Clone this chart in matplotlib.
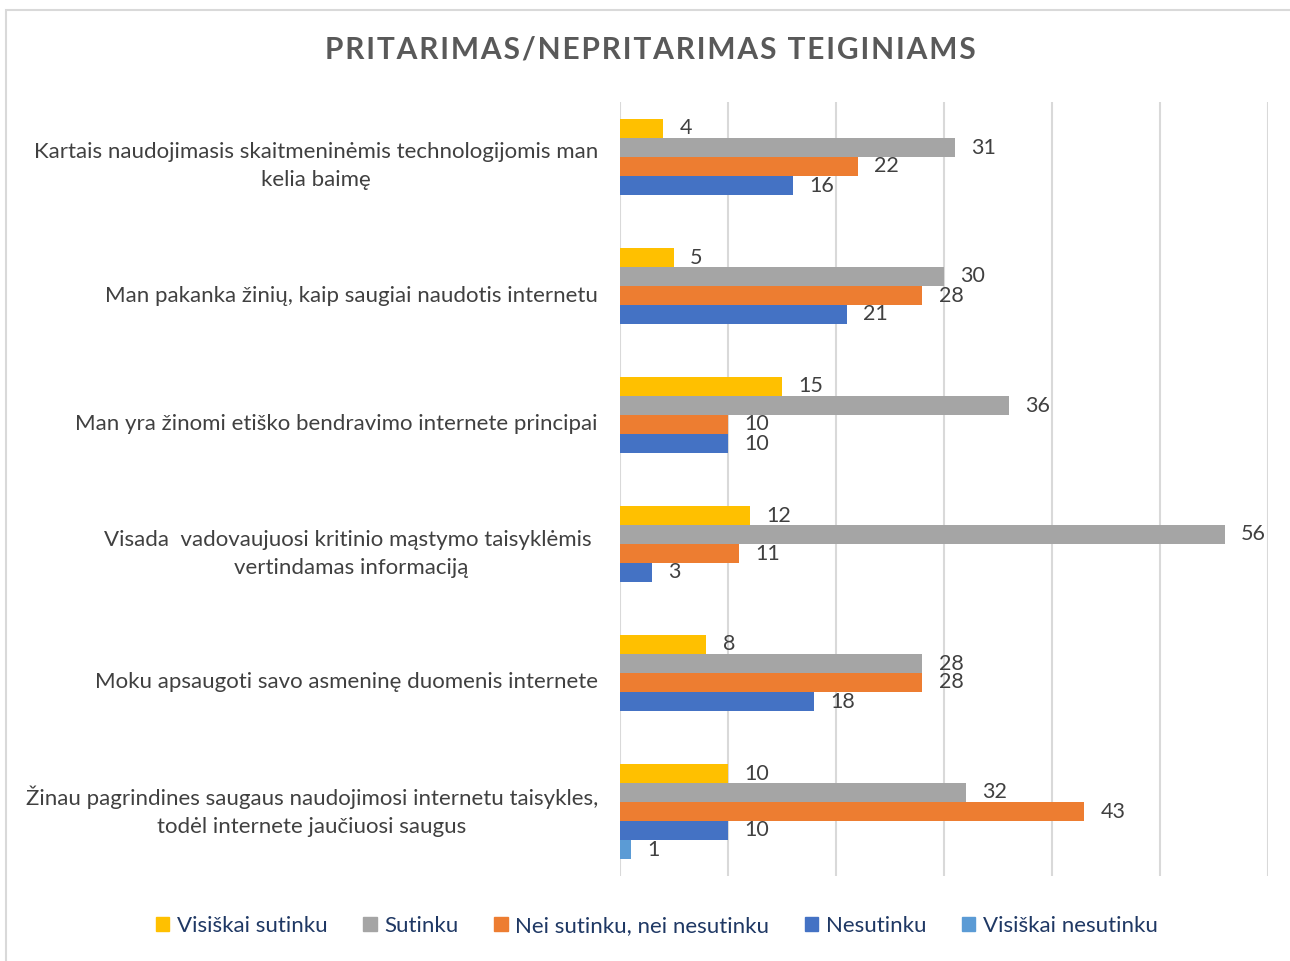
import numpy as np
import matplotlib.pyplot as plt
from matplotlib.patches import Rectangle

plt.rcParams['font.family'] = ['Lato', 'DejaVu Sans']

categories = [
    "Kartais naudojimasis skaitmeninėmis technologijomis man\nkelia baimę",
    "Man pakanka žinių, kaip saugiai naudotis internetu",
    "Man yra žinomi etiško bendravimo internete principai",
    "Visada  vadovaujuosi kritinio mąstymo taisyklėmis \nvertindamas informaciją",
    "Moku apsaugoti savo asmeninę duomenis internete",
    "Žinau pagrindines saugaus naudojimosi internetu taisykles,\ntodėl internete jaučiuosi saugus",
]
series_names = ["Visiškai sutinku", "Sutinku", "Nei sutinku, nei nesutinku",
                "Nesutinku", "Visiškai nesutinku"]
visiskai_sutinku = [4, 5, 15, 12, 8, 10]
sutinku = [31, 30, 36, 56, 28, 32]
nei_nei = [22, 28, 10, 11, 28, 43]
nesutinku = [16, 21, 10, 3, 18, 10]
visiskai_nesutinku = [None, None, None, None, None, 1]
title = "PRITARIMAS/NEPRITARIMAS TEIGINIAMS"

colors = ['#FFC000', '#A5A5A5', '#ED7D31', '#4472C4', '#5B9BD5']
all_series = [visiskai_sutinku, sutinku, nei_nei, nesutinku, visiskai_nesutinku]

fig = plt.figure(figsize=(12.9, 9.61), dpi=100)
W, H = 1290, 961
ax = fig.add_axes([620 / W, 1 - 876 / H, 648 / W, 774 / H])

# chart border (cropped at right/bottom like the source)
fig.patches.append(Rectangle((6 / W, -0.1), 1.2, 1 - 9.5 / H + 0.1, transform=fig.transFigure,
                             fill=False, edgecolor='#D9D9D9', linewidth=1.5))

slot = 19 / 129
y_centers = np.arange(len(categories))
for k, (vals, col) in enumerate(zip(all_series, colors)):
    for i, v in enumerate(vals):
        if v is None:
            continue
        y = y_centers[i] + (k - 2) * slot
        ax.barh(y, v, height=slot, color=col, zorder=3)
        ax.text(v + 1.5, y, str(v), va='center', ha='left', fontsize=15.5, color='#404040')

ax.set_xlim(0, 60)
ax.set_ylim(len(categories) - 0.5, -0.5)
ax.set_xticks(np.arange(0, 61, 10))
ax.xaxis.grid(True, color='#D9D9D9', linewidth=1.5, zorder=0)
ax.tick_params(axis='x', length=0, labelbottom=False)
ax.set_yticks(y_centers)
ax.set_yticklabels(categories, fontsize=16, color='#404040', multialignment='center',
                   linespacing=1.5)
for lbl in ax.get_yticklabels():
    lbl.set_va('center')
ax.tick_params(axis='y', length=0, pad=16)
for s in ax.spines.values():
    s.set_visible(False)

fig.text(650 / W, 1 - 50 / H, '\u200a'.join(title), ha='center', va='center',
         fontsize=21.5, fontweight='bold', color='#595959')

handles = [Rectangle((0, 0), 1, 1, color=c) for c in colors]
fig.legend(handles, series_names, loc='center', bbox_to_anchor=(657 / W, 1 - 926 / H),
           ncol=5, frameon=False, fontsize=16, labelcolor='#1F3864',
           handlelength=0.6, handleheight=0.6, handletextpad=0.35, columnspacing=1.6)

fig.savefig('out.png', dpi=100)
